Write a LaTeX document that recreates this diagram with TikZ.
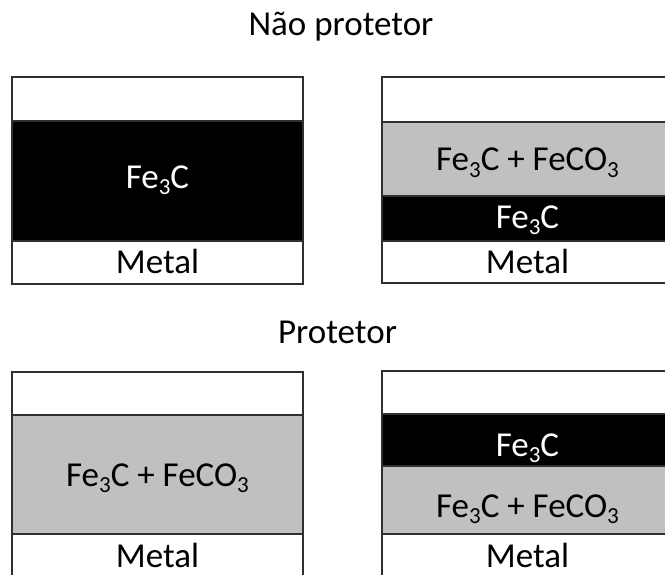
\documentclass[tikz,border=0pt]{standalone}
\usepackage{fontspec}
\setmainfont{Carlito}
\newcommand\sbs[1]{\raisebox{-0.19em}{\fontsize{23}{23}\selectfont #1}}
\definecolor{layergray}{HTML}{C0C0C0}
\definecolor{edgecol}{HTML}{303030}
\begin{document}
\begin{tikzpicture}[x=1pt,y=-1pt,
  layer/.style={draw=edgecol, line width=1.5pt, rectangle, inner sep=0pt, outer sep=0pt,
    minimum width=291pt, anchor=north west},
  emptylayer/.style={layer, fill=white},
  blacklayer/.style={layer, fill=black},
  graylayer/.style={layer, fill=layergray},
  lbl/.style={anchor=base, inner sep=0pt, font=\fontsize{35}{42}\selectfont, text=black},
  wlbl/.style={lbl, text=white}]
\useasboundingbox (0,0) rectangle (665,574);
% titles
\node[lbl] (t1) at (341,35) {Não protetor};
\node[lbl] (t2) at (337.5,343) {Protetor};
% top left
\node[emptylayer, minimum height=44pt] (tl1) at (12,77) {};
\node[blacklayer, minimum height=120pt] (tl2) at (12,121) {};
\node[emptylayer, minimum height=43pt] (tl3) at (12,241) {};
\node[wlbl] (tlf) at (157.5,188) {Fe\sbs{3}C};
\node[lbl] (tlm) at (157.5,273.5) {Metal};
% top right
\node[emptylayer, minimum height=45pt] (tr1) at (382,77) {};
\node[graylayer, minimum height=74pt] (tr2) at (382,122) {};
\node[blacklayer, minimum height=45pt] (tr3) at (382,196) {};
\node[emptylayer, minimum height=42pt] (tr4) at (382,241) {};
\node[lbl] (trg) at (527.5,170.5) {Fe\sbs{3}C + FeCO\sbs{3}};
\node[wlbl] (trf) at (527.5,228) {Fe\sbs{3}C};
\node[lbl] (trm) at (527.5,273.5) {Metal};
% bottom left
\node[emptylayer, minimum height=43pt] (bl1) at (12,372) {};
\node[graylayer, minimum height=119pt] (bl2) at (12,415) {};
\node[emptylayer, minimum height=60pt] (bl3) at (12,534) {};
\node[lbl] (blg) at (157.5,486) {Fe\sbs{3}C + FeCO\sbs{3}};
\node[lbl] (blm) at (157.5,567) {Metal};
% bottom right
\node[emptylayer, minimum height=43pt] (br1) at (382,371) {};
\node[blacklayer, minimum height=52pt] (br2) at (382,414) {};
\node[graylayer, minimum height=68pt] (br3) at (382,466) {};
\node[emptylayer, minimum height=60pt] (br4) at (382,534) {};
\node[wlbl] (brf) at (527.5,456) {Fe\sbs{3}C};
\node[lbl] (brg) at (527.5,517) {Fe\sbs{3}C + FeCO\sbs{3}};
\node[lbl] (brm) at (527.5,567) {Metal};
\end{tikzpicture}
\end{document}
